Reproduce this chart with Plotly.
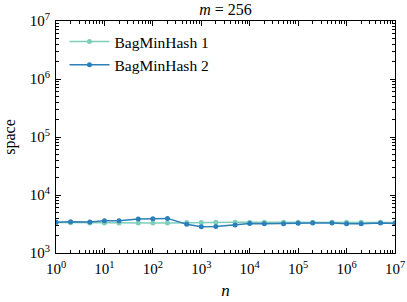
import plotly.graph_objects as go

n_vals = [1, 2, 5, 10, 20, 50, 100, 200, 500, 1000, 2000, 5000,
          1e4, 2e4, 5e4, 1e5, 2e5, 5e5, 1e6, 2e6, 5e6, 1e7]
bag1 = [3350, 3330, 3300, 3300, 3300, 3300, 3300, 3300, 3350, 3370, 3380, 3380,
        3400, 3390, 3390, 3400, 3400, 3390, 3380, 3380, 3390, 3350]
bag2 = [3390, 3470, 3430, 3600, 3600, 3850, 3880, 3950, 3140, 2830, 2860, 3050,
        3210, 3180, 3180, 3250, 3290, 3290, 3180, 3180, 3290, 3210]

x_tickvals = [1, 10, 100, 1e3, 1e4, 1e5, 1e6, 1e7]
x_ticktext = ["10<sup>%d</sup>" % i for i in range(8)]
y_tickvals = [1e3, 1e4, 1e5, 1e6, 1e7]
y_ticktext = ["10<sup>%d</sup>" % i for i in range(3, 8)]

FONT = "Liberation Serif"

fig = go.Figure()
fig.add_trace(go.Scatter(x=n_vals, y=bag1, mode="lines+markers", name="BagMinHash 1",
                         line=dict(color="#7fcdbb", width=1.5),
                         marker=dict(size=5, color="#7fcdbb")))
fig.add_trace(go.Scatter(x=n_vals, y=bag2, mode="lines+markers", name="BagMinHash 2",
                         line=dict(color="#2c7fb8", width=1.5),
                         marker=dict(size=5, color="#2c7fb8")))

axis_common = dict(type="log", showgrid=False, zeroline=False, showline=True,
                   linecolor="black", linewidth=1.2, mirror="allticks",
                   ticks="inside", ticklen=5, tickwidth=1, tickcolor="black",
                   automargin=False, ticklabeloverflow="allow",
                   tickfont=dict(family=FONT, size=15, color="black"))

fig.update_xaxes(**axis_common, range=[0, 7], tickvals=x_tickvals, ticktext=x_ticktext,
                 ticklabelstandoff=2,
                 minor=dict(ticks="inside", ticklen=2.5, tickcolor="black", dtick="D1", showgrid=False),
                 title=dict(text="<i>n</i>", font=dict(family=FONT, size=17, color="black"), standoff=8))
fig.update_yaxes(**axis_common, range=[3, 7], tickvals=y_tickvals, ticktext=y_ticktext,
                 ticklabelstandoff=2,
                 minor=dict(ticks="inside", ticklen=2.5, tickcolor="black", dtick="D1", showgrid=False),
                 title=dict(text="space", font=dict(family=FONT, size=16, color="black"), standoff=10))

fig.update_layout(
    width=407, height=302,
    margin=dict(l=56, r=12, t=21, b=49),
    paper_bgcolor="white", plot_bgcolor="white",
    title=dict(text="<i>m</i> = 256", x=0.5, xanchor="center", xref="paper",
               y=0.97, yref="container", yanchor="middle", pad=dict(t=0, b=0),
               font=dict(family=FONT, size=16, color="black")),
    legend=dict(x=0.025, y=0.983, xanchor="left", yanchor="top", bgcolor="rgba(0,0,0,0)",
                font=dict(family=FONT, size=15.5, color="black"), itemwidth=40,
                tracegroupgap=2),
    showlegend=True,
)

fig.write_html("out.html", config={"displayModeBar": False},
               post_script="document.body.style.margin='0';document.body.style.padding='0';")
